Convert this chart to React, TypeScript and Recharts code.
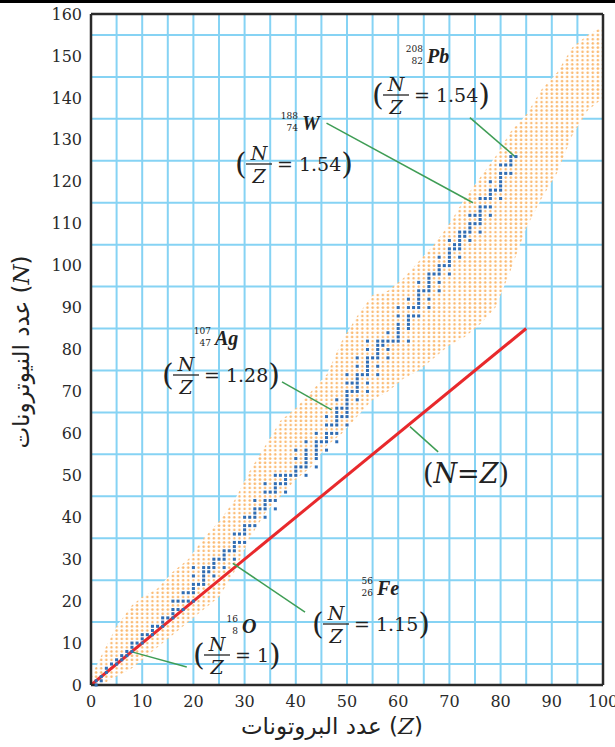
import { ComposedChart, Area, Scatter, Line, XAxis, YAxis, CartesianGrid, ReferenceLine, Customized } from 'recharts';

// band of known nuclides (orange dots): lower / upper neutron edge per proton number
const bandZ = [0, 2, 5, 8, 10, 13, 16, 19, 22, 25, 28, 31, 34, 37, 40, 43, 46, 49, 52, 55, 58, 61, 64, 67, 70, 73, 76, 79, 82, 85, 88, 91, 94, 97, 100];
const bandLow = [0, 0, 2, 4, 6, 9, 12, 15, 18, 21, 27, 35, 41, 45, 49, 52, 57, 60, 64, 68, 70, 73, 75, 78, 81, 83, 86, 90, 99, 109, 116, 122, 131, 137, 140];
const bandHigh = [2, 7, 14, 19, 21, 23, 27, 30, 35, 39, 44, 51, 57, 63, 66, 70, 74, 82, 88, 93, 94, 97, 101, 105, 110, 116, 121, 126, 132, 136, 142, 146, 152, 155, 157];

// stable nuclides (blue dots): neutron numbers for Z = 1..83
const stableNeutrons = [
  [0, 1], [1, 2], [3, 4], [5], [5, 6], [6, 7], [7, 8], [8, 9, 10], [10], [10, 11, 12],
  [12], [12, 13, 14], [14], [14, 15, 16], [16], [16, 17, 18, 20], [18, 20], [18, 20, 22], [20, 22], [20, 22, 23, 24, 26, 28],
  [24], [24, 25, 26, 27, 28], [27, 28], [26, 28, 29, 30], [30], [28, 30, 31, 32], [32], [30, 32, 33, 34, 36], [34, 36], [34, 36, 37, 38, 40],
  [38, 40], [38, 40, 41, 42, 44], [42], [40, 42, 43, 44, 46, 48], [44, 46], [42, 44, 46, 47, 48, 50], [48, 50], [46, 48, 49, 50], [50], [50, 51, 52, 54, 56],
  [52], [50, 52, 53, 54, 55, 56, 58], [], [52, 54, 55, 56, 57, 58, 60], [58], [56, 58, 59, 60, 62, 64], [60, 62], [58, 60, 62, 63, 64, 65, 66, 68], [64, 66], [62, 64, 65, 66, 67, 68, 69, 70, 72, 74],
  [70, 72], [68, 70, 71, 72, 73, 74, 76, 78], [74], [70, 72, 74, 75, 76, 77, 78, 80, 82], [78], [74, 76, 78, 79, 80, 81, 82], [81, 82], [78, 80, 82, 84], [82], [82, 83, 84, 85, 86, 88, 90],
  [], [82, 85, 86, 87, 88, 90, 92], [88, 90], [88, 90, 91, 92, 93, 94, 96], [94], [90, 92, 94, 95, 96, 97, 98], [98], [94, 96, 98, 99, 100, 102], [100], [98, 100, 101, 102, 103, 104, 106],
  [104, 105], [102, 104, 105, 106, 107, 108], [107, 108], [106, 108, 109, 110, 112], [110, 112], [108, 110, 111, 112, 113, 114, 116], [114, 116], [112, 114, 116, 117, 118, 120], [118], [116, 118, 119, 120, 121, 122, 124],
  [122, 124], [122, 124, 125, 126], [126],
];

const nzLine = [{ z: 0, n: 0 }, { z: 85, n: 85 }];

const xTicks = [0, 10, 20, 30, 40, 50, 60, 70, 80, 90, 100];
const yTicks = [0, 10, 20, 30, 40, 50, 60, 70, 80, 90, 100, 110, 120, 130, 140, 150, 160];
const gridX = [5, 10, 15, 20, 25, 30, 35, 40, 45, 50, 55, 60, 65, 70, 75, 80, 85, 90, 95];
const gridY = [5, 10, 15, 20, 25, 30, 35, 40, 45, 50, 55, 60, 65, 70, 75, 80, 85, 90, 95, 100, 105, 110, 115, 120, 125, 130, 135, 140, 145, 150, 155];

// pointer lines from the labels to the nuclides
const pointers = [
  [{ x: 8, y: 7.9 }, { x: 18.7, y: 4.3 }],
  [{ x: 27.7, y: 29 }, { x: 41.8, y: 17.4 }],
  [{ x: 37.3, y: 72.3 }, { x: 47, y: 65.6 }],
  [{ x: 46, y: 134 }, { x: 74.6, y: 115 }],
  [{ x: 74, y: 135.3 }, { x: 82.8, y: 126 }],
  [{ x: 62.3, y: 61.6 }, { x: 67.8, y: 55.6 }],
];

const bandData = bandZ.map((z, i) => ({ z, range: [bandLow[i], bandHigh[i]] }));
const stableData = stableNeutrons.flatMap((ns, i) => ns.map((n) => ({ z: i + 1, n })));

const W = 615;
const H = 747;
const plotL = 91, plotR = 603, plotT = 14, plotB = 685;
const cellW = (plotR - plotL) / 100;
const cellH = (plotB - plotT) / 160;

const serif = 'DejaVu Serif';
const ink = '#222';

const StableDot = (props: any) => (
  <rect x={props.cx - 1.5} y={props.cy - 1.5} width={3} height={3} fill="#2f6db5" />
);

const Ratio = ({ x, y, value }: { x: number; y: number; value: string }) => (
  <g fontFamily={serif} fill={ink}>
    <text x={x} y={y + 9.5} fontSize={30}>(</text>
    <text x={x + 24} y={y - 4} fontSize={19} fontStyle="italic" textAnchor="middle">N</text>
    <line x1={x + 11} x2={x + 37} y1={y} y2={y} stroke={ink} strokeWidth={1.3} />
    <text x={x + 24} y={y + 19} fontSize={19} fontStyle="italic" textAnchor="middle">Z</text>
    <text x={x + 42} y={y + 7} fontSize={19}>
      = {value}
      <tspan fontSize={30} dy={2.5}>)</tspan>
    </text>
  </g>
);

const Nuclide = ({ x, y, mass, z, sym }: { x: number; y: number; mass: string; z: string; sym: string }) => (
  <g fontFamily={serif} fill={ink}>
    <text x={x} y={y - 11} fontSize={9} textAnchor="end">{mass}</text>
    <text x={x} y={y + 1} fontSize={9} textAnchor="end">{z}</text>
    <text x={x + 4} y={y} fontFamily="Liberation Serif" fontSize={20} fontStyle="italic" fontWeight="bold">{sym}</text>
  </g>
);

const Annotations = () => (
  <g>
    <Nuclide x={423} y={63} mass="208" z="82" sym="Pb" />
    <Ratio x={372} y={95} value="1.54" />
    <Nuclide x={298} y={130} mass="188" z="74" sym="W" />
    <Ratio x={235} y={164} value="1.54" />
    <Nuclide x={211} y={345} mass="107" z="47" sym="Ag" />
    <Ratio x={162} y={375} value="1.28" />
    <Nuclide x={373} y={595} mass="56" z="26" sym="Fe" />
    <Ratio x={312} y={624} value="1.15" />
    <Nuclide x={238} y={633} mass="16" z="8" sym="O" />
    <Ratio x={193} y={655} value="1" />
    <text x={466} y={483} fontFamily={serif} fontSize={27} fill={ink} textAnchor="middle">
      (<tspan fontStyle="italic">N</tspan>=<tspan fontStyle="italic">Z</tspan>)
    </text>
    <text x={332} y={734} fontFamily="DejaVu Sans" fontSize={23} fill={ink} textAnchor="middle">
      عدد البروتونات (<tspan fontFamily={serif} fontStyle="italic">Z</tspan>)
    </text>
    <text x={0} y={0} transform="translate(29 352) rotate(-90)" fontFamily="DejaVu Sans" fontSize={23} fill={ink} textAnchor="middle">
      عدد النيوترونات (<tspan fontFamily={serif} fontStyle="italic">N</tspan>)
    </text>
  </g>
);

export default function App() {
  return (
    <div style={{ position: 'absolute', left: 0, top: 0, width: W, height: H, background: '#fff' }}>
      <div style={{ position: 'absolute', left: 0, top: 0, width: W, height: 3, background: '#000' }} />
      <ComposedChart width={W} height={H} margin={{ top: plotT, right: W - plotR, bottom: 32, left: 0 }}>
        <defs>
          <pattern id="nuclideDots" patternUnits="userSpaceOnUse" x={plotL - cellW / 2} y={plotB - cellH / 2} width={cellW} height={cellH}>
            <rect width={cellW} height={cellH} fill="#fff" />
            <circle cx={cellW / 2} cy={cellH / 2} r={1.3} fill="#fbb96f" />
          </pattern>
        </defs>
        <CartesianGrid stroke="#86d3f4" strokeWidth={2} verticalValues={gridX} horizontalValues={gridY} />
        <XAxis
          dataKey="z"
          type="number"
          domain={[0, 100]}
          ticks={xTicks}
          axisLine={false}
          tickLine={false}
          height={30}
          tickMargin={5}
          tick={{ fontFamily: serif, fontSize: 16, fill: '#2a2a2a' }}
        />
        <YAxis
          dataKey="n"
          type="number"
          domain={[0, 160]}
          ticks={yTicks}
          axisLine={false}
          tickLine={false}
          width={plotL}
          tickMargin={3}
          tick={{ fontFamily: serif, fontSize: 16, fill: '#2a2a2a' }}
        />
        <Area data={bandData} dataKey="range" type="linear" stroke="none" fill="url(#nuclideDots)" fillOpacity={1} isAnimationActive={false} />
        <Scatter data={stableData} dataKey="n" shape={StableDot} isAnimationActive={false} />
        <Line data={nzLine} dataKey="n" stroke="#e8292c" strokeWidth={3} dot={false} isAnimationActive={false} />
        {pointers.map((seg, i) => (
          <ReferenceLine key={i} segment={seg} stroke="#3f9d55" strokeWidth={1.5} />
        ))}
        <ReferenceLine x={0} stroke="#2a2a2a" strokeWidth={2.5} />
        <ReferenceLine x={100} stroke="#2a2a2a" strokeWidth={2.5} />
        <ReferenceLine y={0} stroke="#2a2a2a" strokeWidth={2.5} />
        <ReferenceLine y={160} stroke="#2a2a2a" strokeWidth={2.5} />
        <Customized component={<Annotations />} />
      </ComposedChart>
    </div>
  );
}
